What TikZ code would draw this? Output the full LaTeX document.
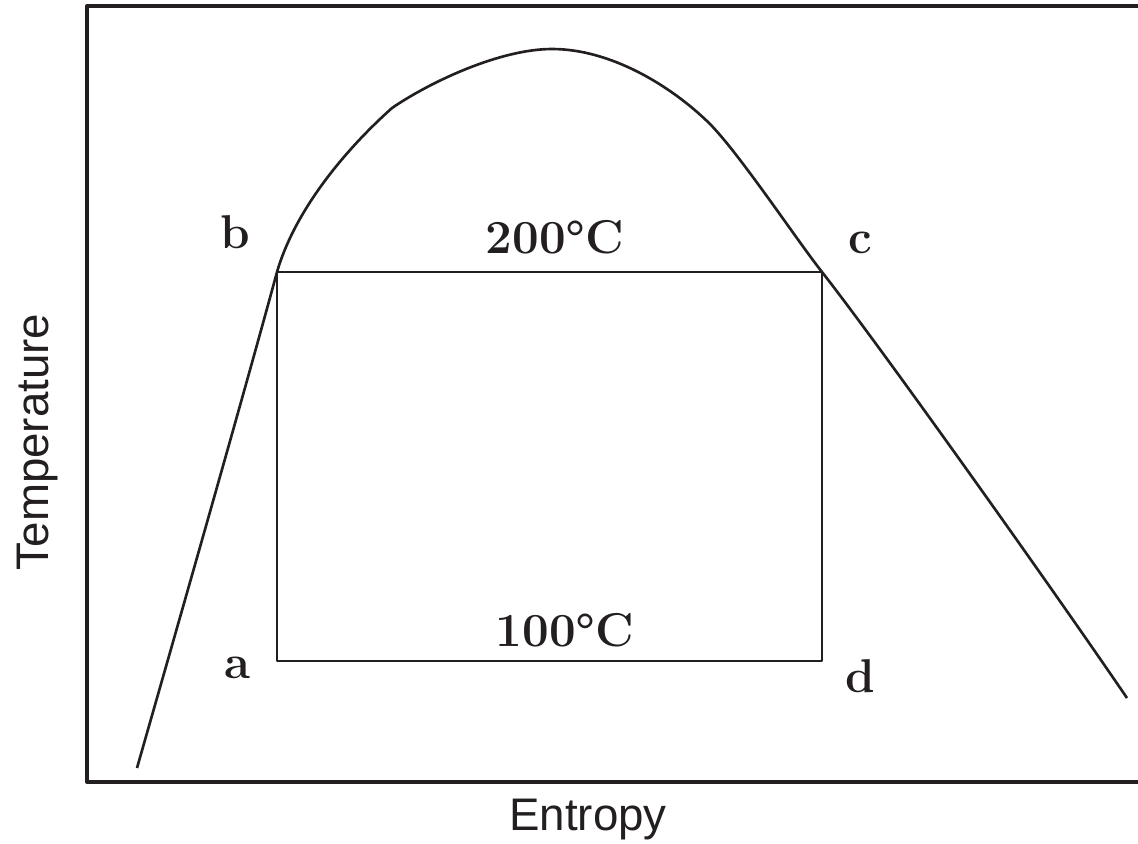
\documentclass[tikz,border=0pt]{standalone}
\usepackage{fontspec}
\setsansfont{Liberation Sans}
\definecolor{PlotInk}{HTML}{231F20}

\begin{document}
\begin{tikzpicture}[x=0.02cm, y=-0.02cm, line join=round,
  statelbl/.style={text=PlotInk, inner sep=0pt, anchor=base,
    font=\fontsize{27}{30}\selectfont\bfseries\addfontfeature{FakeBold=0.7}},
  axislbl/.style={text=PlotInk, inner sep=0pt, anchor=base,
    font=\fontsize{26}{30}\selectfont\sffamily}]
  \useasboundingbox (0,0) rectangle (1138,843);
  % frame, open to the right
  \draw[PlotInk, line width=1.9pt] (1160,6) -- (87,6) -- (87,782) -- (1160,782);
  \node[axislbl] (entropy) at (588,830) {Entropy};
  \node[axislbl, rotate=90] (temperature) at (48,442) {Temperature};
  % saturation dome
  \draw[PlotInk, line width=1.5pt]
    (137,768) .. controls (185,600) and (245,390) .. (277,272)
    .. controls (295,210) and (345,150) .. (392,108)
    .. controls (430,82) and (500,49) .. (552,49)
    .. controls (610,49) and (670,85) .. (709,123)
    .. controls (739,153) and (796,239) .. (822,272)
    .. controls (880,346) and (1050,585) .. (1127,698);
  % the cycle
  \coordinate (pa) at (277,661);
  \coordinate (pb) at (277,272);
  \coordinate (pc) at (822,272);
  \coordinate (pd) at (822,661);
  \draw[PlotInk, line width=1.45pt] (pa) -- (pb) -- (pc) -- (pd) -- cycle;
  \node[statelbl] (la) at (237,678) {a};
  \node[statelbl] (lb) at (235,248) {b};
  \node[statelbl] (lc) at (860,253) {c};
  \node[statelbl] (ld) at (860,692) {d};
  \node[statelbl] (thot) at (555,253) {200°C};
  \node[statelbl] (tcold) at (565,646) {100°C};
\end{tikzpicture}
\end{document}
